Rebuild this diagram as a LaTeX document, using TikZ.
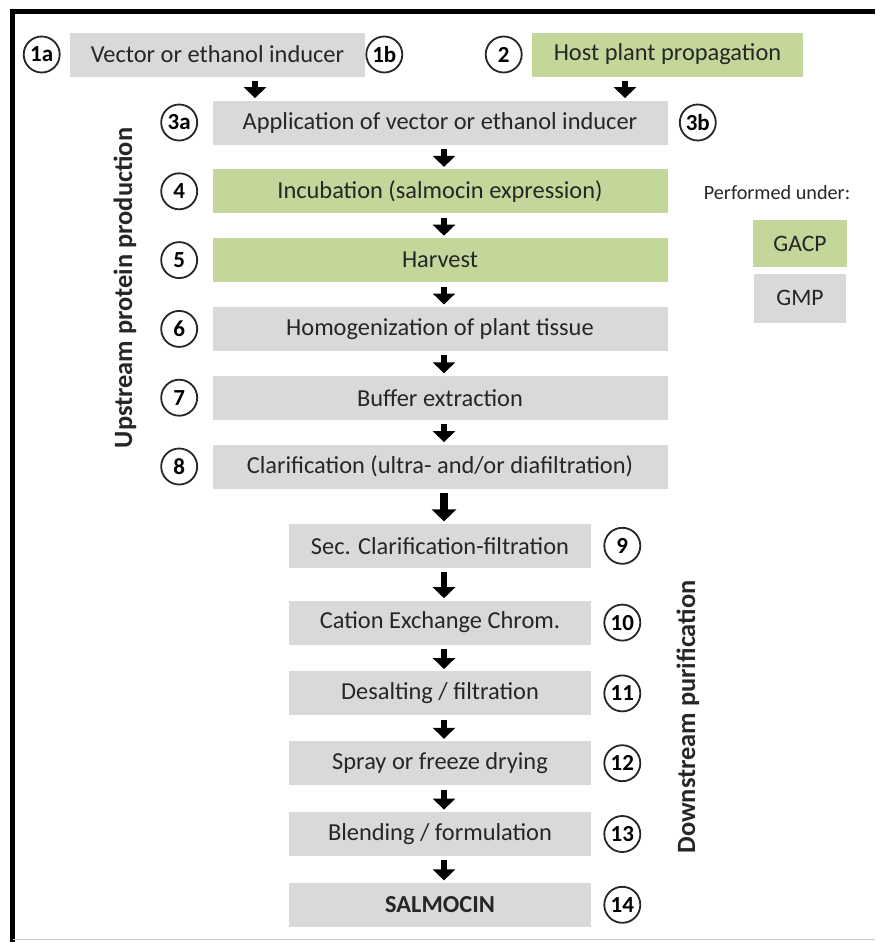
\documentclass[tikz,border=0pt]{standalone}
\usepackage{fontspec}
\setmainfont{Carlito}
\usepackage{tikz}
\usetikzlibrary{arrows.meta,positioning}
\definecolor{gacpgreen}{RGB}{196,215,155}
\definecolor{gmpgray}{RGB}{217,217,217}

\begin{document}
\begin{tikzpicture}[
      x=0.5pt,y=-0.5pt,
      node distance=12pt,
      stepgray/.style={rectangle,fill=gmpgray,text=black!85,minimum height=22pt,font=\fontsize{12.2}{14}\selectfont},
      stepgreen/.style={stepgray,fill=gacpgreen},
      wide/.style={minimum width=227.5pt},
      narrow/.style={minimum width=151pt},
      num/.style={circle,draw=black!85,line width=0.9pt,minimum size=18pt,inner sep=0pt,font=\fontsize{11.5}{13}\selectfont\bfseries},
      blk/.style={line width=3pt,-{Triangle[length=5.5pt,width=11pt]},shorten <=2pt,shorten >=1pt},
      side/.style={rotate=90,text=black!85,font=\fontsize{13.2}{15}\selectfont\bfseries}
    ]
    \useasboundingbox (0,0) rectangle (875,942);
    % frame
    \draw[line width=2.5pt] (875,11) -- (12.5,11) -- (12.5,942);
    \draw[black!20,line width=0.5pt] (12.5,939) -- (875,939);
    % starting material
    \node[stepgray,minimum width=147.5pt] (b1) at (217.5,54.5) {Vector or ethanol inducer};
    \node[stepgreen,minimum width=135.5pt] (b2) at (667.5,54.5) {Host plant propagation};
    % upstream
    \node[stepgray,wide] (b3) at (440,122.5) {Application of vector or ethanol inducer};
    \node[stepgreen,wide,below=of b3] (b4) {Incubation (salmocin expression)};
    \node[stepgreen,wide,below=of b4] (b5) {Harvest};
    \node[stepgray,wide,below=of b5] (b6) {Homogenization of plant tissue};
    \node[stepgray,wide,below=of b6] (b7) {Buffer extraction};
    \node[stepgray,wide,below=of b7] (b8) {Clarification (ultra- and/or diafiltration)};
    % downstream
    \node[stepgray,narrow,below=17.25pt of b8] (b9) {Sec. Clarification-filtration};
    \node[stepgray,narrow,below=16pt of b9] (b10) {Cation Exchange Chrom.};
    \node[stepgray,narrow,below=13pt of b10] (b11) {Desalting / filtration};
    \node[stepgray,narrow,below=12.5pt of b11] (b12) {Spray or freeze drying};
    \node[stepgray,narrow,below=13pt of b12] (b13) {Blending / formulation};
    \node[stepgray,narrow,below=13pt of b13,font=\fontsize{12.2}{14}\selectfont\bfseries] (b14) {SALMOCIN};
    % step numbers
    \node[num,left=4.5pt of b1] (n1a) {1a};
    \node[num,right=0pt of b1] (n1b) {1b};
    \node[num,left=4.5pt of b2] (n2) {2};
    \node[num,left=7pt of b3] (n3a) {3a};
    \node[num,right=5.5pt of b3] (n3b) {3b};
    \foreach \i in {4,...,8}
      \node[num,left=7pt of b\i] (n\i) {\i};
    \foreach \i in {9,...,14}
      \node[num,right=6pt of b\i] (n\i) {\i};
    % legend
    \node[text=black!85,font=\fontsize{10.1}{12}\selectfont] (perf) at (777,193) {Performed under:};
    \node[stepgreen,minimum width=47pt,minimum height=23.5pt,font=\fontsize{11.8}{14}\selectfont] (gacp) at (800,243.5) {GACP};
    \node[stepgray,minimum width=46pt,minimum height=24.5pt,font=\fontsize{11.8}{14}\selectfont,below=3pt of gacp] (gmp) {GMP};
    % phase labels
    \node[side] (up) at (125,288) {Upstream protein production};
    \node[side] (down) at (688,717) {Downstream purification};
    % arrows
    \draw[blk] ([xshift=18.75pt]b1.south) -- ([xshift=18.75pt]b1.south |- b3.north);
    \draw[blk] ([xshift=-21.25pt]b2.south) -- ([xshift=-21.25pt]b2.south |- b3.north);
    \foreach \a/\b in {b3/b4,b4/b5,b5/b6,b6/b7,b7/b8,b9/b10,b10/b11,b11/b12,b12/b13,b13/b14}
      \draw[blk] ([xshift=2pt]\a.south) -- ([xshift=2pt]\b.north);
    \draw[blk,line width=4pt,-{Triangle[length=6pt,width=12pt]}] ([xshift=2pt]b8.south) -- ([xshift=2pt]b9.north);
  \end{tikzpicture}
\end{document}
